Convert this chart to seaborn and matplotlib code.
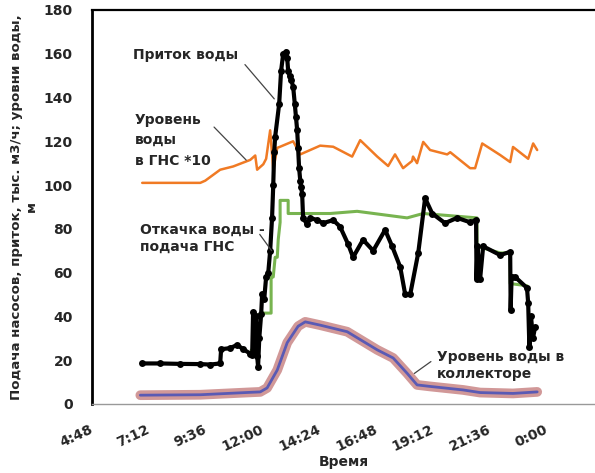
import numpy as np
import pandas as pd
import seaborn as sb
import matplotlib.pyplot as plt

# время в часах (4.8 = 4:48)

# Приток воды, тыс. м3/ч
inflow_t = [6.91, 7.67, 8.51, 9.36, 9.78, 10.20, 10.24, 10.62, 10.92, 11.17, 11.47, 11.55,
            11.59, 11.64, 11.72, 11.76, 11.80, 11.85, 11.93, 11.97, 12.06, 12.14, 12.23,
            12.31, 12.39, 12.44, 12.48, 12.52, 12.69, 12.77, 12.86, 12.99, 13.03, 13.07,
            13.13, 13.20, 13.28, 13.35, 13.40, 13.45, 13.49, 13.53, 13.58, 13.62, 13.66,
            13.70, 13.87, 14.00, 14.29, 14.55, 14.97, 15.26, 15.60,
            15.81, 16.23, 16.66, 17.16, 17.46, 17.80, 18.01, 18.22, 18.56, 18.85, 19.15,
            19.69, 20.20, 20.75, 21.00, 21.02, 21.06, 21.17, 21.30, 22.02, 22.44, 22.46,
            22.50, 22.65, 23.15, 23.20, 23.25, 23.32, 23.40, 23.49]
inflow_v = [18.5, 18.5, 18.3, 18.2, 18.0, 18.5, 25, 25.5, 27, 25, 23, 22.5,
            42, 23, 40, 22, 17, 30, 41, 50, 48, 58, 60,
            70, 85, 100, 115, 122, 137, 152, 160, 161, 158, 152,
            150, 148, 145, 137, 131, 125, 117, 108, 102, 99, 96,
            85, 82, 85, 84, 82.6, 84, 81, 73,
            67, 75, 70, 79.5, 72, 62.5, 50, 50, 69, 94, 87,
            82.6, 85, 83, 84, 57, 72, 57, 72, 68, 69.5, 43,
            58, 58, 53, 46, 26, 40, 30, 35]

# Откачка воды - подача ГНС
pump_t = [11.51, 11.68, 11.68, 11.97, 12.35, 12.35, 12.44, 12.52, 12.61, 12.65, 12.73,
          12.73, 13.07, 13.07, 13.58, 14.84, 15.98, 18.09, 18.77, 19.91, 21.04, 21.04,
          22.02, 22.44, 22.44, 23.15]
pump_v = [24.6, 24.6, 40, 41.5, 41.5, 58, 58, 67, 67, 75, 83,
          93, 93, 87, 87, 87, 88, 85, 87, 86, 85, 72,
          69, 69, 55, 54]

# Уровень воды в ГНС *10
pns_t = [6.91, 9.36, 9.57, 10.20, 10.75, 11.47, 11.68, 11.76, 12.02, 12.14, 12.31, 12.44,
         12.61, 12.73, 13.28, 13.58, 14.42, 14.97, 15.77, 16.11, 16.83, 17.29, 17.58,
         17.92, 18.30, 18.34, 18.51, 18.77, 19.06, 19.78, 19.91, 20.75, 20.96, 21.26,
         22.02, 22.44, 22.56, 23.20, 23.41, 23.58]
pns_v = [101, 101, 102, 107, 108.5, 111.5, 113.5, 107, 109.5, 112, 125, 107,
         117, 117.5, 120, 114, 118, 117.5, 113, 120.5, 113, 108.7, 114,
         107.7, 111, 113, 110, 119.7, 116, 114, 115, 107.7, 107.7, 119,
         113.7, 110.5, 117.4, 112, 119, 116]

# Уровень воды в коллекторе
coll_t = [6.83, 9.36, 11.47, 11.89, 12.18, 12.61, 13.03, 13.49, 13.79, 14.42, 15.56,
          16.83, 17.50, 18.09, 18.51, 19.06, 20.45, 21.17, 22.56, 23.58]
coll_v = [4, 4.2, 5.3, 5.5, 7.3, 15.5, 28, 35.5, 37.5, 36, 33,
          24.7, 21, 14, 8.7, 8, 6.4, 5.2, 4.8, 5.5]

x_ticks = [4.8, 7.2, 9.6, 12.0, 14.4, 16.8, 19.2, 21.6, 24.0]
x_labels = ["4:48", "7:12", "9:36", "12:00", "14:24", "16:48", "19:12", "21:36", "0:00"]
y_ticks = [0, 20, 40, 60, 80, 100, 120, 140, 160, 180]

sb.set_style("white")
plt.rcParams['font.family'] = ['DejaVu Sans']
plt.rcParams['font.weight'] = 'bold'

fig = plt.figure(figsize=(5.95, 4.73), dpi=100)
ax = fig.add_axes([0.155, 0.146, 0.845, 0.833])

inflow = pd.DataFrame({"t": inflow_t, "v": inflow_v})
pump = pd.DataFrame({"t": pump_t, "v": pump_v})
pns = pd.DataFrame({"t": pns_t, "v": pns_v})
coll = pd.DataFrame({"t": coll_t, "v": coll_v})

sb.lineplot(data=coll, x="t", y="v", ax=ax, estimator=None, sort=False,
            color="#c98686", lw=7, alpha=0.85)
sb.lineplot(data=coll, x="t", y="v", ax=ax, estimator=None, sort=False,
            color="#5a5ab4", lw=2)
sb.lineplot(data=pns, x="t", y="v", ax=ax, estimator=None, sort=False,
            color="#f07a24", lw=1.8)
sb.lineplot(data=pump, x="t", y="v", ax=ax, estimator=None, sort=False,
            color="#78b450", lw=2.2)
sb.lineplot(data=inflow, x="t", y="v", ax=ax, estimator=None, sort=False,
            color="black", lw=3, marker="o", markersize=5, markeredgewidth=0)

ax.set_xlim(4.8, 26.02)
ax.set_ylim(0, 180)
ax.set_xticks(x_ticks)
ax.set_xticklabels(x_labels, rotation=25, ha="right", va="center",
                   rotation_mode="anchor", fontsize=10)
ax.set_yticks(y_ticks)
ax.set_yticklabels([str(v) for v in y_ticks], fontsize=10)
ax.tick_params(axis="x", direction="out", length=5, width=1, color="#999999", pad=13)
ax.tick_params(axis="y", length=0, pad=14)

ax.spines["right"].set_visible(False)
ax.spines["left"].set_color("black")
ax.spines["left"].set_linewidth(2)
ax.spines["top"].set_color("black")
ax.spines["top"].set_linewidth(1.6)
ax.spines["bottom"].set_color("#999999")
ax.spines["bottom"].set_linewidth(1)

ax.set_xlabel("Время", fontsize=10, fontweight="bold", va="center")
ax.xaxis.set_label_coords(0.5, -0.147)
ax.set_ylabel("Подача насосов, приток, тыс. м3/ч; уровни воды,\nм", fontsize=9.6,
              fontweight="bold", labelpad=4)

line_kw = dict(arrowstyle="-", color="#444444", lw=0.9)
ax.text(6.53, 159.4, "Приток воды", fontsize=10, fontweight="bold", va="center")
ax.annotate("", xy=(12.56, 138.4), xytext=(11.17, 156), arrowprops=line_kw)

ax.text(6.61, 120.5, "Уровень\nводы\nв ГНС *10", fontsize=10, fontweight="bold",
        va="center", linespacing=1.6)
ax.annotate("", xy=(11.38, 110.5), xytext=(9.86, 127.4), arrowprops=line_kw)

ax.text(6.83, 75.6, "Откачка воды -\nподача ГНС", fontsize=10, fontweight="bold",
        va="center", linespacing=1.25)
ax.annotate("", xy=(12.44, 69), xytext=(11.80, 78.5), arrowprops=line_kw)

ax.text(19.36, 17.4, "Уровень воды в\nколлекторе", fontsize=10, fontweight="bold",
        va="center", linespacing=1.25)
ax.annotate("", xy=(18.30, 13.2), xytext=(19.19, 20.1), arrowprops=line_kw)

fig.savefig("out.png", dpi=100)
